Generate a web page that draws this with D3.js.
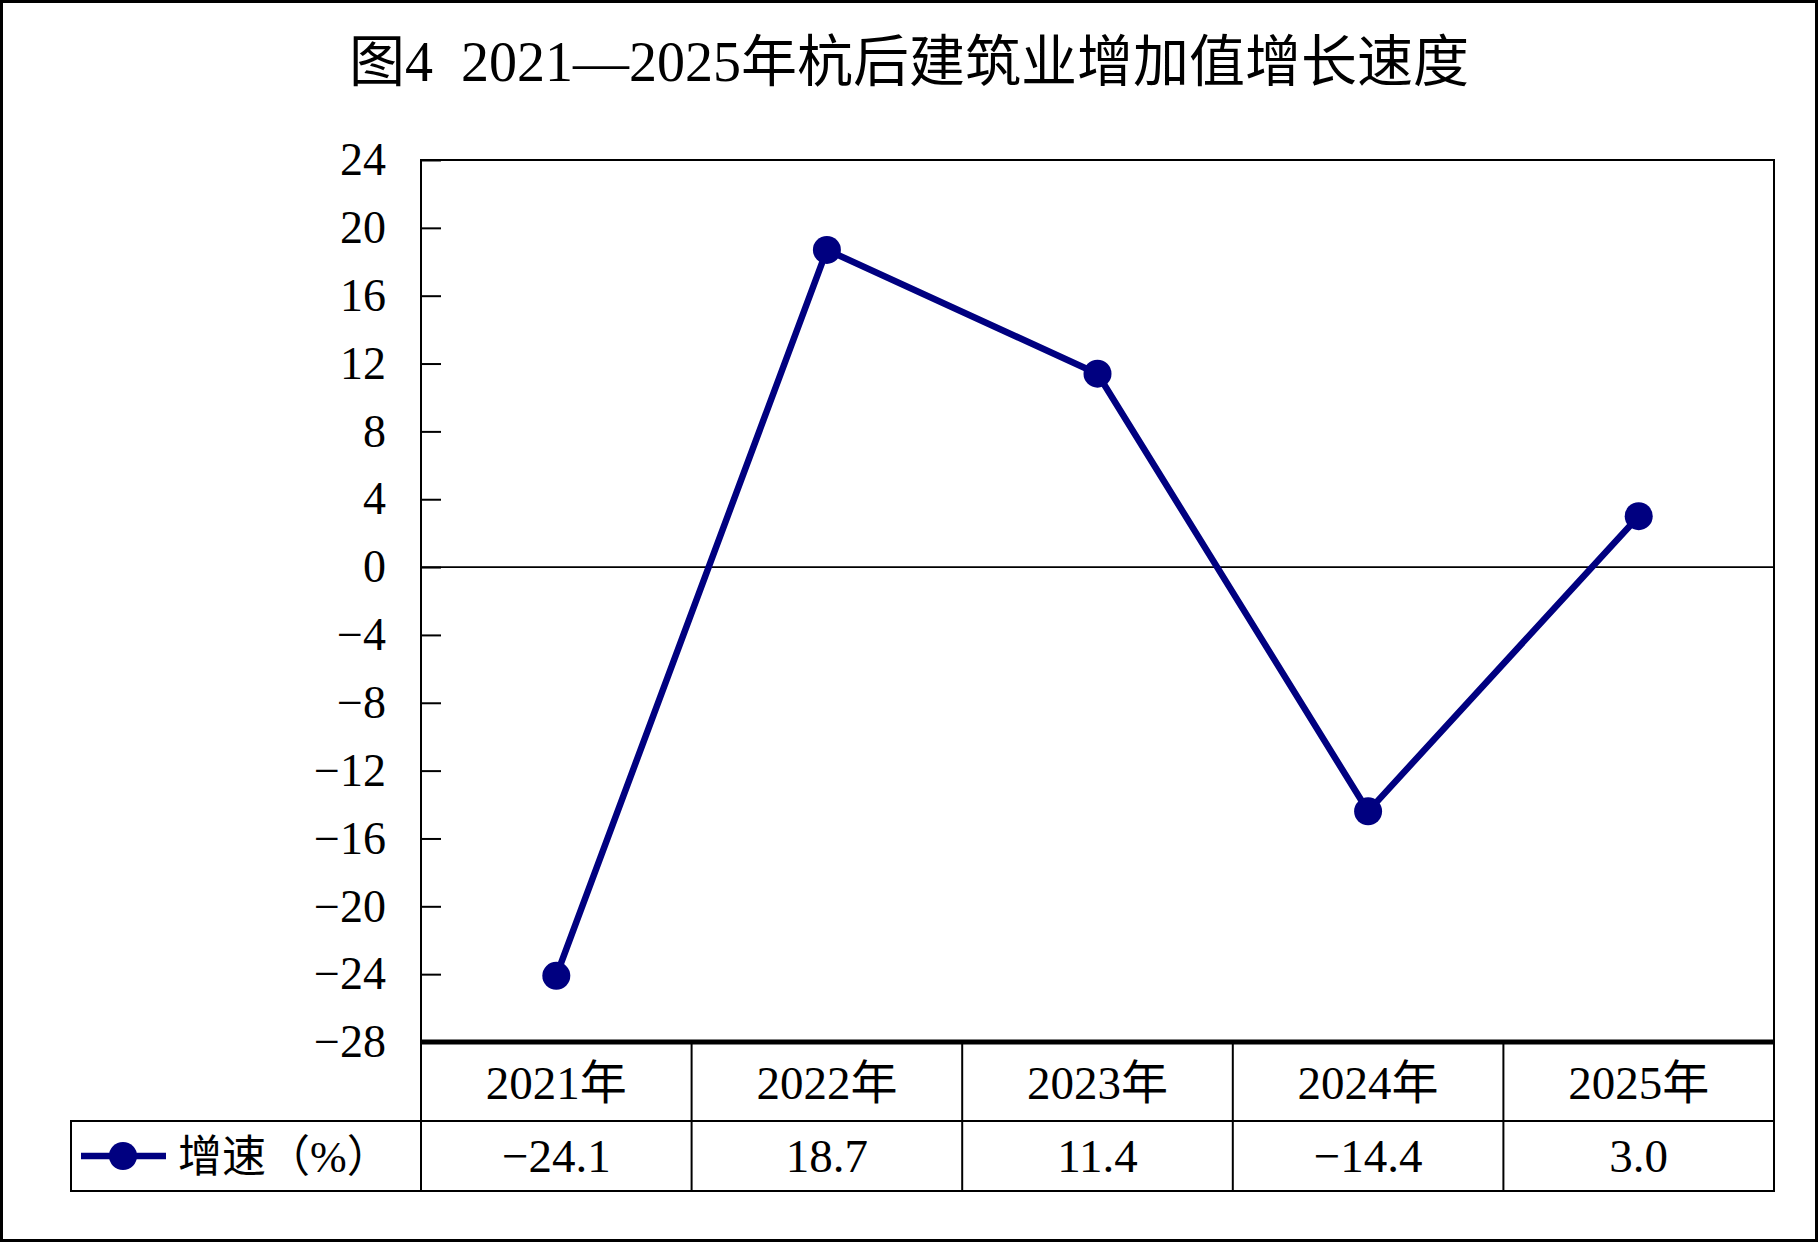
<!DOCTYPE html>
<html>
<head>
<meta charset="utf-8">
<script src="https://cdn.jsdelivr.net/npm/d3@7"></script>
<style>
  body { margin: 0; background: #fff; }
  text { font-family: "Liberation Serif", "Noto Sans CJK SC", serif; fill: #000; }
</style>
</head>
<body>
<svg id="chart"></svg>
<script>
// chart data
var years = ["2021年", "2022年", "2023年", "2024年", "2025年"];
var growth = [-24.1, 18.7, 11.4, -14.4, 3.0];
var yTicks = [24, 20, 16, 12, 8, 4, 0, -4, -8, -12, -16, -20, -24, -28];
var seriesName = "增速（%）";
var title = "图4  2021—2025年杭后建筑业增加值增长速度";

var width = 1818, height = 1242;
var plotLeft = 421, plotRight = 1774, plotTop = 160, plotBottom = 1042;
var row1 = 1121, row2 = 1191, legendLeft = 71;
var navy = "#000080";

var svg = d3.select("#chart")
    .attr("width", width)
    .attr("height", height);

// outer frame
svg.append("rect")
    .attr("x", 1.5).attr("y", 1.5)
    .attr("width", width - 3).attr("height", height - 3)
    .style("fill", "none").style("stroke", "#000").style("stroke-width", 3);

// title
svg.append("text")
    .attr("x", width / 2)
    .attr("y", 81)
    .attr("text-anchor", "middle")
    .style("font-size", "56px")
    .style("white-space", "pre")
    .text(title);

var x = d3.scaleBand().domain(years).range([plotLeft, plotRight]);
var y = d3.scaleLinear().domain([-28, 24]).range([plotBottom, plotTop]);

// y axis, ticks pointing inward
var yAxis = svg.append("g")
    .attr("transform", "translate(" + plotLeft + ",0)")
    .call(d3.axisLeft(y).tickValues(yTicks).tickSizeInner(-20).tickSizeOuter(0).tickPadding(35));
yAxis.select(".domain").remove();
yAxis.selectAll("line").style("stroke", "#000").style("stroke-width", 2);
yAxis.selectAll("text")
    .style("font-size", "46px")
    .style("font-family", "Liberation Serif, serif");

// plot frame
svg.append("rect")
    .attr("x", plotLeft).attr("y", plotTop)
    .attr("width", plotRight - plotLeft).attr("height", plotBottom - plotTop)
    .style("fill", "none").style("stroke", "#000").style("stroke-width", 2);

// zero line
svg.append("line")
    .attr("x1", plotLeft).attr("x2", plotRight)
    .attr("y1", y(0)).attr("y2", y(0))
    .style("stroke", "#000").style("stroke-width", 1.6);

// data table under the plot
svg.append("rect")
    .attr("x", plotLeft).attr("y", plotBottom)
    .attr("width", plotRight - plotLeft).attr("height", row1 - plotBottom)
    .style("fill", "none").style("stroke", "#000").style("stroke-width", 2);
svg.append("rect")
    .attr("x", legendLeft).attr("y", row1)
    .attr("width", plotRight - legendLeft).attr("height", row2 - row1)
    .style("fill", "none").style("stroke", "#000").style("stroke-width", 2);

svg.selectAll(".col-line")
    .data(years)
    .enter().append("line")
    .attr("class", "col-line")
    .attr("x1", function(d) { return x(d); })
    .attr("x2", function(d) { return x(d); })
    .attr("y1", plotBottom).attr("y2", row2)
    .style("stroke", "#000").style("stroke-width", 2);

// thick bottom of plot
svg.append("line")
    .attr("x1", plotLeft).attr("x2", plotRight)
    .attr("y1", plotBottom).attr("y2", plotBottom)
    .style("stroke", "#000").style("stroke-width", 5);

svg.selectAll(".year-label")
    .data(years)
    .enter().append("text")
    .attr("class", "year-label")
    .attr("x", function(d) { return x(d) + x.bandwidth() / 2; })
    .attr("y", 1099)
    .attr("text-anchor", "middle")
    .style("font-size", "47px")
    .text(function(d) { return d; });

var fmt = d3.format(".1f");
svg.selectAll(".value-label")
    .data(growth)
    .enter().append("text")
    .attr("class", "value-label")
    .attr("x", function(d, i) { return x(years[i]) + x.bandwidth() / 2; })
    .attr("y", 1172)
    .attr("text-anchor", "middle")
    .style("font-size", "47px")
    .text(function(d) { return fmt(d); });

// legend key in the table
var legendY = (row1 + row2) / 2;
svg.append("line")
    .attr("x1", 81).attr("x2", 166)
    .attr("y1", legendY).attr("y2", legendY)
    .style("stroke", navy).style("stroke-width", 6.5);
svg.append("circle")
    .attr("cx", 123).attr("cy", legendY).attr("r", 14)
    .style("fill", navy);
svg.append("text")
    .attr("x", 178)
    .attr("y", 1172)
    .style("font-size", "44px")
    .text(seriesName);

// the series
var line = d3.line()
    .x(function(d, i) { return x(years[i]) + x.bandwidth() / 2; })
    .y(function(d) { return y(d); });

svg.append("path")
    .datum(growth)
    .attr("d", line)
    .style("fill", "none")
    .style("stroke", navy)
    .style("stroke-width", 6.5)
    .style("stroke-linejoin", "round");

svg.selectAll(".dot")
    .data(growth)
    .enter().append("circle")
    .attr("class", "dot")
    .attr("cx", function(d, i) { return x(years[i]) + x.bandwidth() / 2; })
    .attr("cy", function(d) { return y(d); })
    .attr("r", 14)
    .style("fill", navy);
</script>
</body>
</html>
